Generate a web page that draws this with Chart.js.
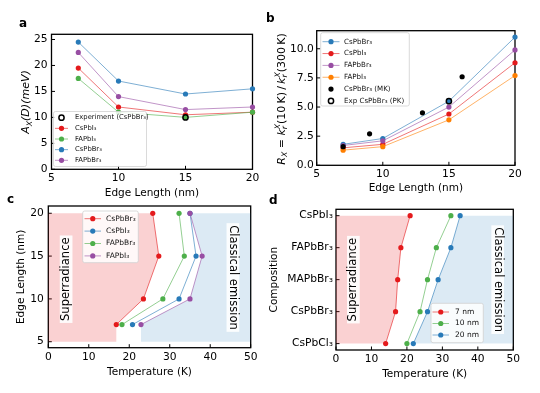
<!DOCTYPE html>
<html><head><meta charset="utf-8">
<script src="https://cdn.jsdelivr.net/npm/chart.js@4.4.1/dist/chart.umd.min.js"></script>
<style>
html,body{margin:0;padding:0;background:#fff;}
#page{position:relative;width:540px;height:393px;overflow:hidden;background:#fff;}
#page canvas{position:absolute;left:0;top:0;}
.plabel{position:absolute;font-family:"DejaVu Sans",sans-serif;font-weight:bold;font-size:12px;line-height:12px;color:#000;}
</style></head>
<body><div id="page">
<canvas id="ca" width="540" height="393"></canvas>
<canvas id="cb" width="540" height="393"></canvas>
<canvas id="cc" width="540" height="393"></canvas>
<canvas id="cd" width="540" height="393"></canvas>
<div class="plabel" style="left:19px;top:17px">a</div>
<div class="plabel" style="left:266px;top:12px">b</div>
<div class="plabel" style="left:7px;top:193px">c</div>
<div class="plabel" style="left:269px;top:194px">d</div>
</div>
<script>
// ---------------- data ----------------
const edgeA = [7, 10, 15, 20];
const aCsPbI3 = [19.5, 12.0, 10.5, 11.0];
const aFAPbI3 = [17.5, 11.0, 10.0, 11.0];
const aCsPbBr3 = [24.5, 17.0, 14.5, 15.5];
const aFAPbBr3 = [22.5, 14.0, 11.5, 12.0];
const aExpEdge = [15];
const aExpVal = [10.0];
const aXTicks = [5, 10, 15, 20];
const aYTicks = [0, 5, 10, 15, 20, 25];

const edgeB = [7, 10, 15, 20];
const bCsPbBr3 = [1.8, 2.3, 5.5, 11.0];
const bCsPbI3 = [1.5, 1.8, 4.4, 8.8];
const bFAPbBr3 = [1.7, 2.1, 5.0, 9.9];
const bFAPbI3 = [1.3, 1.6, 3.9, 7.7];
const bMKEdge = [7, 9, 13, 16];
const bMKVal = [1.6, 2.7, 4.5, 7.6];
const bPKEdge = [15];
const bPKVal = [5.5];
const bXTicks = [5, 10, 15, 20];
const bYTicks = [0, 2.5, 5, 7.5, 10];

const edgeC = [7, 10, 15, 20];
const cCsPbBr3 = [16.8, 23.5, 27.3, 25.8];
const cCsPbI3 = [20.8, 32.3, 36.5, 35.0];
const cFAPbBr3 = [18.2, 28.3, 33.6, 32.3];
const cFAPbI3 = [22.9, 35.0, 38.0, 35.0];
const cXTicks = [0, 10, 20, 30, 40, 50];
const cYTicks = [5, 10, 15, 20];

const compositions = ['CsPbCl₃', 'CsPbBr₃', 'MAPbBr₃', 'FAPbBr₃', 'CsPbI₃'];
const d7nm = [14.0, 16.8, 17.4, 18.3, 20.9];
const d10nm = [20.0, 23.7, 25.8, 28.3, 32.4];
const d20nm = [21.8, 25.8, 28.8, 32.4, 35.0];
const dXTicks = [0, 10, 20, 30, 40, 50];

// ---------------- styling ----------------
const FONT = '"DejaVu Sans", sans-serif';
Chart.defaults.font.family = FONT;
Chart.defaults.color = '#000';
const RED = [228, 26, 28], BLUE = [40, 122, 184], GREEN = [77, 175, 74], PURPLE = [152, 78, 163], ORANGE = [255, 127, 0], BLACK = [0, 0, 0];
const rgba = (c, a) => `rgba(${c[0]},${c[1]},${c[2]},${a})`;

function series(xs, ys, c, label, z) {
  return { label, data: xs.map((x, i) => ({ x, y: ys[i] })), showLine: true,
    borderColor: rgba(c, 0.6), borderWidth: 1, pointBackgroundColor: rgba(c, 1), pointBorderColor: rgba(c, 1),
    pointRadius: 2.6, pointBorderWidth: 0, clip: false, order: -z };
}
function dots(xs, ys, c, label, z) {
  return { label, data: xs.map((x, i) => ({ x, y: ys[i] })), showLine: false,
    pointBackgroundColor: rgba(c, 1), pointBorderColor: rgba(c, 1), pointRadius: 2.6, pointBorderWidth: 0, clip: false, order: -z };
}
function openPts(xs, ys, label, z) {
  return { label, data: xs.map((x, i) => ({ x, y: ys[i] })), showLine: false,
    pointBackgroundColor: 'rgba(0,0,0,0)', pointBorderColor: '#000', pointRadius: 2.6, pointBorderWidth: 1.5, clip: false, order: -z };
}
function regionLeft(temps, levels, xEdge, yLow, yHigh) {
  const pts = [{ x: xEdge, y: yLow }, { x: xEdge, y: yHigh }];
  for (let i = levels.length - 1; i >= 0; i--) pts.push({ x: temps[i], y: levels[i] });
  pts.push({ x: temps[0], y: yLow });
  return pts;
}
function fillDs(pts, color) {
  return { data: pts, showLine: true, fill: 'shape', backgroundColor: color, borderColor: 'rgba(0,0,0,0)',
    borderWidth: 0, pointRadius: 0, order: 100 };
}
function linAxis(min, max, ticks, fmt, title, fit, pad) {
  return {
    type: 'linear', min, max,
    grid: { display: false, drawTicks: false }, border: { display: false },
    ticks: { font: { size: 10.7 }, color: '#000', padding: pad, autoSkip: false, maxRotation: 0,
      callback: fmt || (v => String(v)) },
    afterBuildTicks: s => { s.ticks = ticks.map(v => ({ value: v })); },
    afterFit: s => { if (s.isHorizontal()) s.height = fit; else s.width = fit; },
    title: title ? { display: true, text: title, font: { size: 10.5 }, color: '#000', padding: { top: 0, bottom: 0 } } : { display: false }
  };
}

// ---------------- plugins ----------------
const framePlugin = {
  id: 'frame',
  beforeDatasetsDraw(chart) {
    const { ctx, chartArea: a, scales } = chart;
    ctx.save();
    ctx.strokeStyle = '#000'; ctx.lineWidth = 1;
    const L = 3.5;
    ctx.beginPath();
    scales.x.ticks.forEach(t => { const p = scales.x.getPixelForValue(t.value); ctx.moveTo(p, a.bottom); ctx.lineTo(p, a.bottom - L); });
    scales.y.ticks.forEach(t => { const p = scales.y.getPixelForValue(t.value); ctx.moveTo(a.left, p); ctx.lineTo(a.left + L, p); });
    ctx.stroke();
    ctx.lineWidth = 1.3;
    ctx.strokeRect(a.left, a.top, a.right - a.left, a.bottom - a.top);
    ctx.restore();
  }
};
const notesPlugin = {
  id: 'notes',
  afterDatasetsDraw(chart, args, o) {
    if (!o || !o.items) return;
    const ctx = chart.ctx;
    o.items.forEach(it => {
      const px = chart.scales.x.getPixelForValue(it.x), py = chart.scales.y.getPixelForValue(it.y);
      ctx.save();
      ctx.translate(px, py); ctx.rotate(it.rot * Math.PI / 180);
      ctx.font = `${it.size}px ${FONT}`;
      const w = ctx.measureText(it.text).width;
      ctx.fillStyle = 'rgba(255,255,255,0.9)';
      ctx.fillRect(-w / 2 - 2, -it.size * 0.55, w + 4, it.size * 1.1);
      ctx.fillStyle = '#000'; ctx.textAlign = 'center'; ctx.textBaseline = 'middle';
      ctx.fillText(it.text, 0, 0);
      ctx.restore();
    });
  }
};
const legendPlugin = {
  id: 'boxLegend',
  afterDraw(chart, args, o) {
    if (!o || !o.rows) return;
    const ctx = chart.ctx;
    ctx.save();
    const r = 2;
    ctx.beginPath();
    ctx.moveTo(o.x + r, o.y); ctx.lineTo(o.x + o.w - r, o.y); ctx.arcTo(o.x + o.w, o.y, o.x + o.w, o.y + r, r);
    ctx.lineTo(o.x + o.w, o.y + o.h - r); ctx.arcTo(o.x + o.w, o.y + o.h, o.x + o.w - r, o.y + o.h, r);
    ctx.lineTo(o.x + r, o.y + o.h); ctx.arcTo(o.x, o.y + o.h, o.x, o.y + o.h - r, r);
    ctx.lineTo(o.x, o.y + r); ctx.arcTo(o.x, o.y, o.x + r, o.y, r); ctx.closePath();
    ctx.fillStyle = 'rgba(255,255,255,0.85)'; ctx.fill();
    ctx.strokeStyle = '#d0d0d0'; ctx.lineWidth = 0.8; ctx.stroke();
    ctx.font = `${o.size}px ${FONT}`;
    ctx.textBaseline = 'middle'; ctx.textAlign = 'left';
    o.rows.forEach((di, k) => {
      const ds = chart.data.datasets[di];
      const yy = o.row0 + k * o.rowH;
      const mx = (o.lx1 + o.lx2) / 2;
      if (ds.showLine) {
        ctx.strokeStyle = ds.borderColor; ctx.lineWidth = 1;
        ctx.beginPath(); ctx.moveTo(o.lx1, yy); ctx.lineTo(o.lx2, yy); ctx.stroke();
      }
      ctx.beginPath(); ctx.arc(mx, yy, ds.pointRadius, 0, Math.PI * 2);
      ctx.fillStyle = ds.pointBackgroundColor; ctx.fill();
      if (ds.pointBorderWidth > 0) { ctx.strokeStyle = ds.pointBorderColor; ctx.lineWidth = ds.pointBorderWidth; ctx.stroke(); }
      ctx.fillStyle = '#111';
      ctx.fillText(ds.label, o.tx, yy);
    });
    ctx.restore();
  }
};
const richTitlePlugin = {
  id: 'richTitle',
  afterDraw(chart, args, o) {
    if (!o || !o.parts) return;
    const ctx = chart.ctx, size = o.size;
    const fontOf = p => `${p.it ? 'italic ' : ''}${(p.sc || 1) * size}px ${FONT}`;
    let x = 0, prevStart = 0, prevW = 0;
    const lay = [];
    o.parts.forEach(p => {
      ctx.font = fontOf(p);
      const w = ctx.measureText(p.t).width;
      if (p.stack) { lay.push({ p, x: prevStart }); const nw = Math.max(prevW, w); x = prevStart + nw; prevW = nw; }
      else { lay.push({ p, x }); prevStart = x; prevW = w; x += w; }
    });
    const total = x;
    ctx.save();
    ctx.translate(o.cx, o.cy); ctx.rotate(-Math.PI / 2);
    ctx.fillStyle = '#000'; ctx.textBaseline = 'alphabetic'; ctx.textAlign = 'left';
    lay.forEach(({ p, x }) => { ctx.font = fontOf(p); ctx.fillText(p.t, x - total / 2, (p.dy || 0) * size + size * 0.36); });
    ctx.restore();
  }
};
const PLUGINS = [framePlugin, notesPlugin, legendPlugin, richTitlePlugin];

function baseOptions(padding, x, y, extra) {
  return {
    responsive: false, animation: false, events: [],
    layout: { padding },
    scales: { x, y },
    plugins: Object.assign({ legend: { display: false }, tooltip: { enabled: false } }, extra)
  };
}

// ---------------- panel a ----------------
new Chart(document.getElementById('ca'), {
  type: 'scatter',
  plugins: PLUGINS,
  data: { datasets: [
    series(edgeA, aCsPbI3, RED, 'CsPbI₃', 0),
    series(edgeA, aFAPbI3, GREEN, 'FAPbI₃', 1),
    series(edgeA, aCsPbBr3, BLUE, 'CsPbBr₃', 2),
    series(edgeA, aFAPbBr3, PURPLE, 'FAPbBr₃', 3),
    openPts(aExpEdge, aExpVal, 'Experiment (CsPbBr₃)', 4)
  ] },
  options: baseOptions({ left: 0, top: 34.3, right: 287.5, bottom: 193.7 },
    linAxis(5, 20, aXTicks, null, 'Edge Length (nm)', 30, 3),
    linAxis(0, 26, aYTicks, null, null, 51.5, 4),
    { boxLegend: { x: 53.5, y: 111.5, w: 93, h: 55, row0: 117.7, rowH: 10.65, lx1: 55, lx2: 68, tx: 75, size: 6.8, rows: [4, 0, 1, 2, 3] },
      richTitle: { cx: 25.5, cy: 102, size: 11, parts: [
        { t: 'A', it: 1 }, { t: 'X', it: 1, sc: 0.7, dy: 0.22 }, { t: '(D)(meV)', it: 1 } ] } })
});

// ---------------- panel b ----------------
new Chart(document.getElementById('cb'), {
  type: 'scatter',
  plugins: PLUGINS,
  data: { datasets: [
    series(edgeB, bCsPbBr3, BLUE, 'CsPbBr₃', 0),
    series(edgeB, bCsPbI3, RED, 'CsPbI₃', 1),
    series(edgeB, bFAPbBr3, PURPLE, 'FAPbBr₃', 2),
    series(edgeB, bFAPbI3, ORANGE, 'FAPbI₃', 3),
    dots(bMKEdge, bMKVal, BLACK, 'CsPbBr₃ (MK)', 4),
    openPts(bPKEdge, bPKVal, 'Exp CsPbBr₃ (PK)', 5)
  ] },
  options: baseOptions({ left: 270, top: 30.7, right: 25, bottom: 198.45 },
    linAxis(5, 20, bXTicks, null, 'Edge Length (nm)', 29.25, 3),
    linAxis(0, 11.55, bYTicks, v => v.toFixed(1), null, 46.7, 3),
    { boxLegend: { x: 320.7, y: 32.7, w: 88.6, h: 73.3, row0: 41.7, rowH: 11.85, lx1: 322.5, lx2: 339.5, tx: 344, size: 7.1, rows: [0, 1, 2, 3, 4, 5] },
      richTitle: { cx: 281, cy: 99, size: 11, parts: [
        { t: 'R', it: 1 }, { t: 'X', it: 1, sc: 0.7, dy: 0.22 }, { t: ' = ' },
        { t: 'k', it: 1 }, { t: 'r', it: 1, sc: 0.7, dy: 0.22 }, { t: 'X', it: 1, sc: 0.7, dy: -0.42, stack: 1 },
        { t: '(10\u2009K)\u2009/\u2009' },
        { t: 'k', it: 1 }, { t: 'r', it: 1, sc: 0.7, dy: 0.22 }, { t: 'X', it: 1, sc: 0.7, dy: -0.42, stack: 1 },
        { t: '(300\u2009K)' } ] } })
});

// ---------------- panel c ----------------
const redFill = rgba(RED, 0.2), blueFill = rgba(BLUE, 0.16);
new Chart(document.getElementById('cc'), {
  type: 'scatter',
  plugins: PLUGINS,
  data: { datasets: [
    fillDs(regionLeft(cCsPbBr3, edgeC, 0, 5, 20), redFill),
    fillDs(regionLeft(cFAPbI3, edgeC, 50, 5, 20), blueFill),
    series(cCsPbBr3, edgeC, RED, 'CsPbBr₃', 0),
    series(cCsPbI3, edgeC, BLUE, 'CsPbI₃', 1),
    series(cFAPbBr3, edgeC, GREEN, 'FAPbBr₃', 2),
    series(cFAPbI3, edgeC, PURPLE, 'FAPbI₃', 3)
  ] },
  options: baseOptions({ left: 14.75, top: 206, right: 289.3, bottom: 14.75 },
    linAxis(0, 50, cXTicks, null, 'Temperature (K)', 30.55, 3),
    linAxis(4.3, 20.85, cYTicks, null, 'Edge Length (nm)', 33.55, 4.5),
    { boxLegend: { x: 82.7, y: 211, w: 55.6, h: 51.7, row0: 218.7, rowH: 12.4, lx1: 84.5, lx2: 101, tx: 106, size: 7.5, rows: [2, 3, 4, 5] },
      notes: { items: [
        { x: 4.4, y: 12.3, rot: -90, text: 'Superradiance', size: 11.5 },
        { x: 45.6, y: 12.5, rot: 90, text: 'Classical emission', size: 11.5 } ] } })
});

// ---------------- panel d ----------------
const compIdx = compositions.map((_, i) => i);
new Chart(document.getElementById('cd'), {
  type: 'scatter',
  plugins: PLUGINS,
  data: { datasets: [
    fillDs(regionLeft(d7nm, compIdx, 0, 0, 4), redFill),
    fillDs(regionLeft(d20nm, compIdx, 50, 0, 4), blueFill),
    series(d7nm, compIdx, RED, '7 nm', 0),
    series(d10nm, compIdx, GREEN, '10 nm', 1),
    series(d20nm, compIdx, BLUE, '20 nm', 2)
  ] },
  options: baseOptions({ left: 267.75, top: 209.3, right: 26.7, bottom: 12.45 },
    linAxis(0, 50, dXTicks, null, 'Temperature (K)', 30.55, 3),
    linAxis(-0.2, 4.2, compIdx, v => compositions[v], 'Composition', 68.25, 3),
    { boxLegend: { x: 431, y: 303.3, w: 52.3, h: 39.4, row0: 312, rowH: 11.5, lx1: 432.5, lx2: 449, tx: 455, size: 7.5, rows: [2, 3, 4] },
      notes: { items: [
        { x: 4.9, y: 2, rot: -90, text: 'Superradiance', size: 11.5 },
        { x: 45.6, y: 2, rot: 90, text: 'Classical emission', size: 11.5 } ] } })
});
</script>
</body></html>
